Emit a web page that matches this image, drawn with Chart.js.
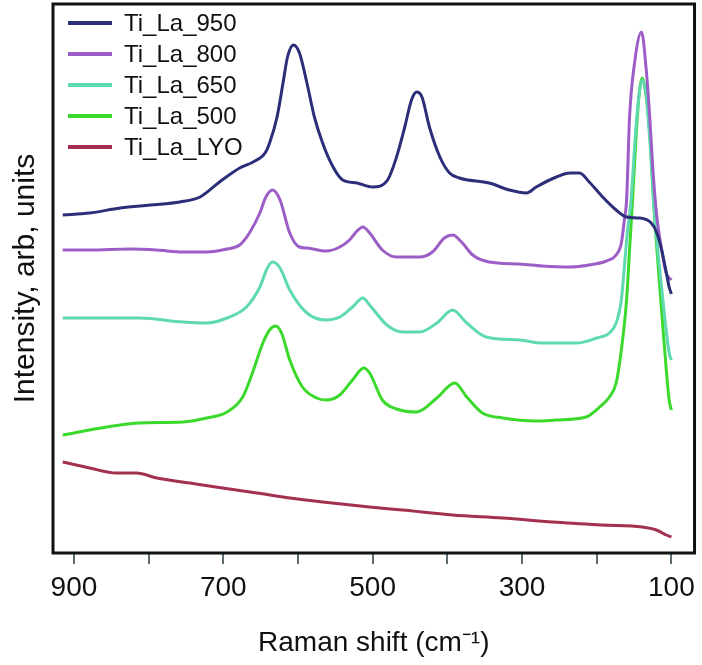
<!DOCTYPE html>
<html>
<head>
<meta charset="utf-8">
<title>Raman spectra</title>
<script src="https://cdn.jsdelivr.net/npm/chart.js@4.4.1/dist/chart.umd.min.js"></script>
<style>
  body { margin: 0; background: #fff; }
  canvas { display: block; }
</style>
</head>
<body>
<canvas id="chart" width="702" height="665"></canvas>
<script>
const seriesNames = ['Ti_La_950', 'Ti_La_800', 'Ti_La_650', 'Ti_La_500', 'Ti_La_LYO'];
const seriesColors = ['#2b2e78', '#9c5ec6', '#5fd9b0', '#3bd92b', '#a3304f'];

// Raman shift (cm-1) and intensity (arb. units)
const shift950 = [915, 879, 838, 798, 758, 731, 705, 678, 660, 644, 638, 628, 620, 614, 606, 598, 588, 578, 567, 553, 540, 521, 500, 480, 468, 457, 448, 441, 434, 424, 410, 397, 384, 344, 317, 294, 281, 254, 236, 223, 210, 192, 174, 160, 143, 127, 120, 113, 107, 103, 100];
const int950 = [338, 340, 345, 348, 351, 356, 371, 385, 391, 400, 410, 436, 470, 496, 508, 500, 470, 436, 410, 386, 373, 370, 366, 373, 396, 426, 453, 461, 456, 426, 396, 380, 375, 370, 363, 360, 366, 376, 380, 380, 371, 356, 343, 336, 335, 330, 321, 303, 281, 266, 259];

const shift800 = [915, 879, 825, 789, 754, 722, 695, 678, 665, 651, 643, 634, 624, 611, 598, 588, 562, 544, 531, 521, 513, 504, 487, 468, 437, 420, 404, 393, 381, 366, 344, 303, 273, 236, 210, 187, 174, 167, 163, 160, 156, 150, 140, 134, 129, 125, 120, 113, 107, 100];
const int800 = [303, 303, 304, 303, 301, 301, 304, 308, 320, 340, 356, 363, 353, 320, 306, 305, 302, 306, 313, 322, 326, 320, 303, 296, 296, 301, 315, 318, 311, 298, 291, 289, 287, 286, 288, 292, 298, 310, 333, 353, 436, 486, 521, 486, 436, 386, 340, 303, 280, 273];

const shift650 = [915, 856, 812, 754, 722, 695, 669, 651, 641, 634, 624, 611, 588, 562, 544, 527, 513, 504, 481, 460, 437, 414, 393, 374, 348, 303, 273, 227, 200, 183, 174, 167, 163, 159, 154, 148, 143, 139, 134, 128, 123, 116, 109, 103, 100];
const int650 = [235, 235, 235, 231, 230, 235, 246, 266, 285, 291, 285, 263, 240, 233, 236, 246, 255, 248, 228, 221, 221, 230, 243, 230, 216, 213, 210, 210, 215, 220, 230, 253, 286, 320, 353, 420, 460, 473, 460, 403, 343, 286, 236, 200, 193];

const shift500 = [915, 856, 812, 754, 722, 695, 674, 661, 647, 638, 630, 622, 611, 594, 575, 562, 544, 527, 512, 504, 487, 468, 441, 414, 390, 374, 353, 326, 281, 254, 214, 196, 183, 174, 167, 160, 156, 152, 147, 143, 139, 135, 129, 124, 116, 109, 103, 100];
const int500 = [118, 126, 130, 131, 135, 141, 156, 180, 210, 223, 227, 220, 193, 166, 155, 153, 158, 173, 185, 180, 153, 144, 141, 155, 170, 156, 140, 135, 132, 133, 136, 146, 156, 170, 203, 253, 303, 353, 420, 460, 475, 463, 420, 353, 270, 203, 153, 143];

const shiftLYO = [915, 879, 843, 816, 789, 745, 701, 655, 611, 567, 504, 460, 393, 326, 259, 192, 139, 120, 107, 100];
const intLYO = [91, 85, 80, 80, 75, 70, 65, 60, 55, 51, 46, 43, 38, 35, 31, 28, 26, 23, 18, 16];

const xTicksLabelled = [900, 700, 500, 300, 100];

const FONT = '"Liberation Sans", Arial, sans-serif';

function toPoints(xs, ys) {
    return xs.map((x, i) => ({ x: x, y: ys[i] }));
}

const allShifts = [shift950, shift800, shift650, shift500, shiftLYO];
const allInts = [int950, int800, int650, int500, intLYO];

// legend sits inside the plot frame, top-left
const insideLegend = {
    id: 'insideLegend',
    afterDatasetsDraw(chart) {
        const { ctx, chartArea } = chart;
        ctx.save();
        ctx.font = '24px ' + FONT;
        ctx.textBaseline = 'middle';
        chart.data.datasets.forEach((ds, i) => {
            const y = chartArea.top + 19 + i * 31;
            ctx.strokeStyle = ds.borderColor;
            ctx.lineWidth = 4;
            ctx.beginPath();
            ctx.moveTo(chartArea.left + 15, y);
            ctx.lineTo(chartArea.left + 59, y);
            ctx.stroke();
            ctx.fillStyle = '#111';
            ctx.fillText(ds.label, chartArea.left + 71, y + 1);
        });
        ctx.restore();
    }
};

const frame = {
    id: 'frame',
    afterDraw(chart) {
        const { ctx, chartArea } = chart;
        ctx.save();
        ctx.strokeStyle = '#111';
        ctx.lineWidth = 3;
        ctx.strokeRect(chartArea.left, chartArea.top, chartArea.right - chartArea.left, chartArea.bottom - chartArea.top);
        ctx.restore();
    }
};

new Chart(document.getElementById('chart'), {
    type: 'line',
    data: {
        datasets: seriesNames.map((name, i) => ({
            label: name,
            data: toPoints(allShifts[i], allInts[i]),
            borderColor: seriesColors[i],
            borderWidth: 3,
            pointRadius: 0,
            fill: false,
            cubicInterpolationMode: 'monotone'
        }))
    },
    options: {
        responsive: false,
        animation: false,
        layout: { padding: { top: 4, right: 7, left: 0, bottom: 0 } },
        plugins: {
            legend: { display: false },
            tooltip: { enabled: false }
        },
        scales: {
            x: {
                type: 'linear',
                reverse: true,
                min: 69,
                max: 928,
                afterFit: (scale) => { scale.height = 112; },
                border: { display: false },
                grid: {
                    drawOnChartArea: false,
                    drawTicks: true,
                    tickLength: 11,
                    color: '#5d6b73',
                    lineWidth: 2
                },
                ticks: {
                    stepSize: 100,
                    includeBounds: false,
                    autoSkip: false,
                    maxRotation: 0,
                    padding: 7,
                    color: '#111',
                    font: { family: FONT, size: 28 },
                    callback: (v) => xTicksLabelled.includes(v) ? String(v) : ''
                },
                title: {
                    display: true,
                    text: 'Raman shift (cm\u207B\u00B9)',
                    color: '#111',
                    font: { family: FONT, size: 28 },
                    padding: { top: 0, bottom: 5 }
                }
            },
            y: {
                min: 0,
                max: 549,
                afterFit: (scale) => { scale.width = 53; },
                border: { display: false },
                grid: { display: false },
                ticks: { display: false },
                title: {
                    display: true,
                    text: 'Intensity, arb, units',
                    color: '#111',
                    font: { family: FONT, size: 30 },
                    padding: { top: 8, bottom: 0 }
                }
            }
        }
    },
    plugins: [insideLegend, frame]
});
</script>
</body>
</html>
